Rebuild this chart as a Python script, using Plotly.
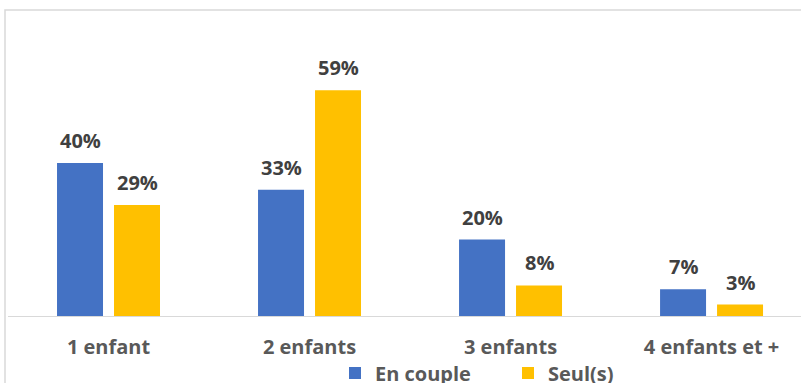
import plotly.graph_objects as go

categories = ["1 enfant", "2 enfants", "3 enfants", "4 enfants et +"]
en_couple = [40, 33, 20, 7]
seuls = [29, 59, 8, 3]

BLUE = "#4472C4"
GOLD = "#FFC000"
FONT = "'Open Sans', sans-serif"

fig = go.Figure()
fig.add_trace(go.Bar(name="<b>En couple</b>", x=categories, y=en_couple,
                     marker=dict(color=BLUE, line=dict(width=0))))
fig.add_trace(go.Bar(name="<b>Seul(s)</b>", x=categories, y=seuls,
                     marker=dict(color=GOLD, line=dict(width=0))))

# value labels above each bar
annotations = []
for vals, shift in ((en_couple, -28.5), (seuls, 28.5)):
    for c, v in zip(categories, vals):
        annotations.append(dict(
            x=c, y=v, xref="x", yref="y", text=f"<b>{v}%</b>",
            showarrow=False, xanchor="center", yanchor="bottom",
            xshift=shift, yshift=7,
            font=dict(family=FONT, size=20, color="#404040")))

fig.update_layout(
    width=801, height=383,
    margin=dict(l=8, r=0, t=20, b=67, autoexpand=False),
    paper_bgcolor="white", plot_bgcolor="white",
    barmode="group", bargap=0.433, bargroupgap=0.193,
    annotations=annotations,
    showlegend=True,
    legend=dict(orientation="h", x=327 / 793, xanchor="left",
                yref="container", y=0.077, yanchor="top",
                entrywidth=128, entrywidthmode="pixels",
                font=dict(family=FONT, size=20, color="#595959"),
                itemclick=False, traceorder="normal",
                bgcolor="rgba(0,0,0,0)"),
    shapes=[dict(type="rect", xref="paper", yref="paper",
                 x0=-3 / 793, x1=1.05, y0=-0.4, y1=1 + 10 / 296,
                 line=dict(color="#D9D9D9", width=1.5), layer="below")],
)
fig.update_xaxes(type="category", range=[-0.5, 3.445], showgrid=False,
                 showline=True, linecolor="#D9D9D9", linewidth=1,
                 ticks="", ticklabelstandoff=13,
                 tickvals=categories,
                 ticktext=[f"<b>{c}</b>" for c in categories],
                 tickfont=dict(family=FONT, size=20, color="#595959"))
fig.update_yaxes(range=[0, 77.4], showgrid=False, zeroline=False,
                 showticklabels=False, showline=False)

fig.write_html("out.html")
